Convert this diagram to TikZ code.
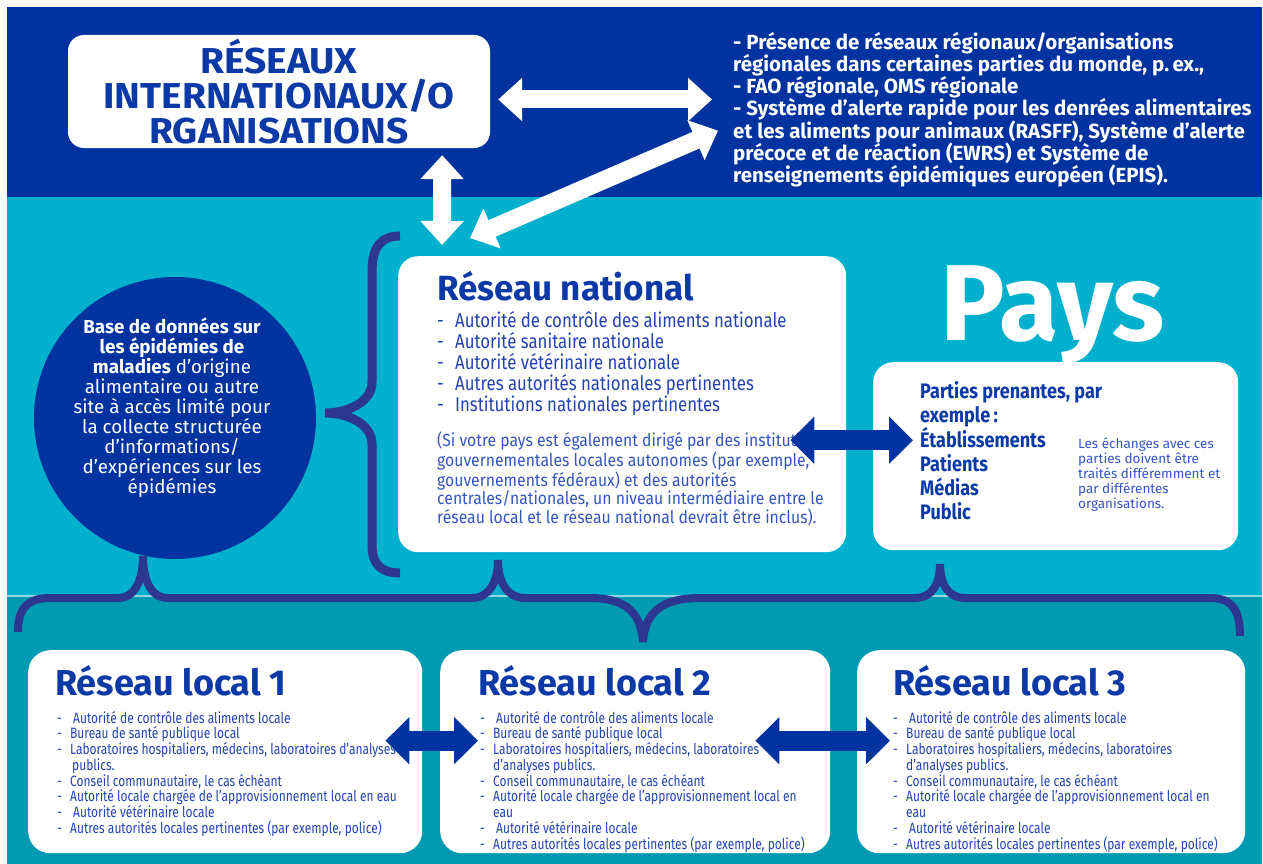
\documentclass[tikz,border=0pt]{standalone}
\usepackage{fontspec}
\setmainfont{Fira Sans}
\newfontfamily\condfont[FakeStretch=0.8]{Fira Sans}
\newfontfamily\natlfont[FakeStretch=0.84]{Fira Sans}
\newfontfamily\semicond[FakeStretch=0.9]{Fira Sans}
\newfontfamily\boldcond[FakeStretch=0.86]{Fira Sans}
\newfontfamily\widebold[FakeStretch=1.08]{Fira Sans}
\usetikzlibrary{arrows.meta,calc}
\definecolor{topblue}{HTML}{0033A0}
\definecolor{midcyan}{HTML}{00B0CC}
\definecolor{lowteal}{HTML}{009BB3}
\definecolor{seamline}{HTML}{8FD6E2}
\definecolor{bracenavy}{HTML}{2D3790}
\definecolor{titleblue}{HTML}{0B3AA6}
\definecolor{listblue}{HTML}{2443B0}
\definecolor{noteblue}{HTML}{3556C0}
\newcommand{\itm}[1][9pt]{\makebox[#1][l]{-}}
\tikzset{
  panel/.style={fill=white, draw=none, inner sep=0pt, anchor=north west},
  txt/.style={inner sep=0pt, anchor=north west, align=left},
  whitearrow/.style={draw=white, line width=18pt,
    {Triangle[length=24pt,width=42pt]}-{Triangle[length=24pt,width=42pt]}},
  bluearrow/.style={draw=topblue, line width=20pt,
    {Triangle[length=24pt,width=46pt]}-{Triangle[length=24pt,width=46pt]}},
  brace/.style={draw=bracenavy, line width=#1, line cap=butt},
}
\begin{document}
\begin{tikzpicture}[x=1pt,y=-1pt]
  \useasboundingbox (0,0) rectangle (1263,864);
  % bands
  \fill[topblue] (7,7) rectangle (1262,197);
  \fill[midcyan] (7,197) rectangle (1262,596);
  \fill[lowteal] (7,596) rectangle (1262,864);
  \draw[seamline, line width=1.5pt] (7,596) -- (1262,596);

  % international networks
  \node[panel, anchor=center, minimum width=422pt, minimum height=113pt,
    rounded corners=16pt, align=center, text=titleblue,
    font=\widebold\bfseries\fontsize{36}{35}\selectfont] (intl) at (279,91.5)
    {RÉSEAUX\\INTERNATIONAUX/O\\RGANISATIONS};
  \node[txt, text=white, font=\bfseries\fontsize{20.5}{22.2}\selectfont] (regional) at (733,32)
    {- Présence de réseaux régionaux/organisations\\
     régionales dans certaines parties du monde, p.\,ex.,\\
     - FAO régionale, OMS régionale\\
     - Système d’alerte rapide pour les denrées alimentaires\\
     et les aliments pour animaux (RASFF), Système d’alerte\\
     précoce et de réaction (EWRS) et Système de\\
     renseignements épidémiques européen (EPIS).};

  % database circle
  \node[circle, fill=topblue, minimum size=282pt, inner sep=0pt] (db) at (175,418) {};
  \node[inner sep=0pt, align=center, text=white, font=\fontsize{18.8}{20}\selectfont] (dbtext) at (172,408)
    {\textbf{Base de données sur}\\ \textbf{les épidémies de}\\ \textbf{maladies} d’origine\\
     alimentaire ou autre\\ site à accès limité pour\\ la collecte structurée\\
     d’informations/\\ d’expériences sur les\\ épidémies};

  % national network
  \node[panel, minimum width=448pt, minimum height=296pt, rounded corners=20pt] (natl) at (398,256) {};
  \node[inner sep=0pt, anchor=base west, text=titleblue, font=\bfseries\fontsize{35}{35}\selectfont]
    (natltitle) at (437,300) {Réseau national};
  \node[txt, text=listblue, font=\natlfont\fontsize{20}{21}\selectfont] (natllist) at (437,311)
    {\itm[18pt]Autorité de contrôle des aliments nationale\\
     \itm[18pt]Autorité sanitaire nationale\\
     \itm[18pt]Autorité vétérinaire nationale\\
     \itm[18pt]Autres autorités nationales pertinentes\\
     \itm[18pt]Institutions nationales pertinentes};
  \node[txt, text=noteblue, font=\semicond\fontsize{17.5}{17}\selectfont] (natlnote) at (437,432)
    {(Si votre pays est également dirigé par des institutions\\
     gouvernementales locales autonomes (par exemple,\\
     gouvernements fédéraux) et des autorités\\
     centrales/nationales, un niveau intermédiaire entre le\\
     réseau local et le réseau national devrait être inclus).};

  % country and stakeholders
  \node[inner sep=0pt, anchor=base west, text=white, font=\bfseries\fontsize{108}{108}\selectfont]
    (pays) at (940,340) {Pays};
  \node[panel, minimum width=365pt, minimum height=188pt, rounded corners=20pt] (stake) at (873,362) {};
  \node[txt, text=titleblue, font=\boldcond\bfseries\fontsize{21}{24}\selectfont] (stakelist) at (920,381)
    {Parties prenantes, par\\ exemple\,:\\ Établissements\\ Patients\\ Médias\\ Public};
  \node[txt, text=noteblue, font=\fontsize{13.5}{15}\selectfont] (stakenote) at (1078,437)
    {Les échanges avec ces\\ parties doivent être\\ traités différemment et\\
     par différentes\\ organisations.};

  % local networks
  \node[panel, minimum width=394pt, minimum height=203pt, rounded corners=22pt] (loc1) at (28,650) {};
  \node[panel, minimum width=390pt, minimum height=203pt, rounded corners=22pt] (loc2) at (440,650) {};
  \node[panel, minimum width=388pt, minimum height=203pt, rounded corners=22pt] (loc3) at (857,650) {};
  \node[inner sep=0pt, anchor=base west, text=titleblue, font=\bfseries\fontsize{36}{36}\selectfont]
    (loc1title) at (55,695) {Réseau local 1};
  \node[inner sep=0pt, anchor=base west, text=titleblue, font=\bfseries\fontsize{36}{36}\selectfont]
    (loc2title) at (478,695) {Réseau local 2};
  \node[inner sep=0pt, anchor=base west, text=titleblue, font=\bfseries\fontsize{36}{36}\selectfont]
    (loc3title) at (893,695) {Réseau local 3};
  \node[txt, text=listblue, font=\condfont\fontsize{15}{15.75}\selectfont] (loc1list) at (57,711)
    {\itm[13pt]\hspace{3pt}Autorité de contrôle des aliments locale\\
     \itm[13pt]Bureau de santé publique local\\
     \itm[13pt]Laboratoires hospitaliers, médecins, laboratoires d’analyses\\
     \hspace{15pt}publics.\\
     \itm[13pt]Conseil communautaire, le cas échéant\\
     \itm[13pt]Autorité locale chargée de l’approvisionnement local en eau\\
     \itm[13pt]\hspace{3pt}Autorité vétérinaire locale\\
     \itm[13pt]Autres autorités locales pertinentes (par exemple, police)};
  \node[txt, text=listblue, font=\condfont\fontsize{15}{15.75}\selectfont] (loc2list) at (480,711)
    {\itm[13pt]\hspace{3pt}Autorité de contrôle des aliments locale\\
     \itm[13pt]Bureau de santé publique local\\
     \itm[13pt]Laboratoires hospitaliers, médecins, laboratoires\\
     \hspace{13pt}d’analyses publics.\\
     \itm[13pt]Conseil communautaire, le cas échéant\\
     \itm[13pt]Autorité locale chargée de l’approvisionnement local en\\
     \hspace{13pt}eau\\
     \itm[13pt]\hspace{3pt}Autorité vétérinaire locale\\
     \itm[13pt]Autres autorités locales pertinentes (par exemple, police)};
  \node[txt, text=listblue, font=\condfont\fontsize{15}{15.75}\selectfont] (loc3list) at (893,711)
    {\itm[13pt]\hspace{3pt}Autorité de contrôle des aliments locale\\
     \itm[13pt]Bureau de santé publique local\\
     \itm[13pt]Laboratoires hospitaliers, médecins, laboratoires\\
     \hspace{13pt}d’analyses publics.\\
     \itm[13pt]Conseil communautaire, le cas échéant\\
     \itm[13pt]Autorité locale chargée de l’approvisionnement local en\\
     \hspace{13pt}eau\\
     \itm[13pt]\hspace{3pt}Autorité vétérinaire locale\\
     \itm[13pt]Autres autorités locales pertinentes (par exemple, police)};

  % braces
  \draw[brace=9pt] (400,236) .. controls (380,236) and (372,248) .. (372,272)
    -- (372,382) .. controls (372,402) and (348,413) .. (325,413)
    .. controls (348,413) and (372,424) .. (372,444)
    -- (372,545) .. controls (372,565) and (382,573) .. (400,573);
  \draw[brace=8pt] (18,632) .. controls (18,610) and (26,598) .. (50,598)
    -- (118,598) .. controls (135,598) and (143,580) .. (143,556)
    .. controls (143,580) and (151,598) .. (168,598)
    -- (472,598) .. controls (489,598) and (498,582) .. (498,560)
    .. controls (498,582) and (507,598) .. (525,598)
    -- (590,598) .. controls (625,598) and (641,612) .. (643,642)
    .. controls (645,612) and (662,598) .. (700,598)
    -- (915,598) .. controls (932,598) and (940,584) .. (940,564)
    .. controls (940,584) and (948,598) .. (965,598)
    -- (1210,598) .. controls (1232,598) and (1240,610) .. (1240,636);

  % connectors
  \draw[whitearrow] ($(intl.east)+(8,8)$) -- ($(intl.east -| regional.west)+(-21,8)$);
  \draw[whitearrow] ($(intl.south east)+(-48,7)$) -- ($(natl.north west)+(44,-11)$);
  \draw[whitearrow] ($(natl.north west)+(72,-18)$) -- ($(regional.west)+(-15,21)$);
  \draw[bluearrow] ($(natl.east)+(-56,36)$) -- ($(natl.east -| stake.west)+(40,36)$);
  \draw[bluearrow] ($(loc1.east)+(-37,-11)$) -- ($(loc1.east -| loc2.west)+(38,-11)$);
  \draw[bluearrow] ($(loc2.east)+(-75,-11)$) -- ($(loc2.east -| loc3.west)+(33,-11)$);
\end{tikzpicture}
\end{document}
